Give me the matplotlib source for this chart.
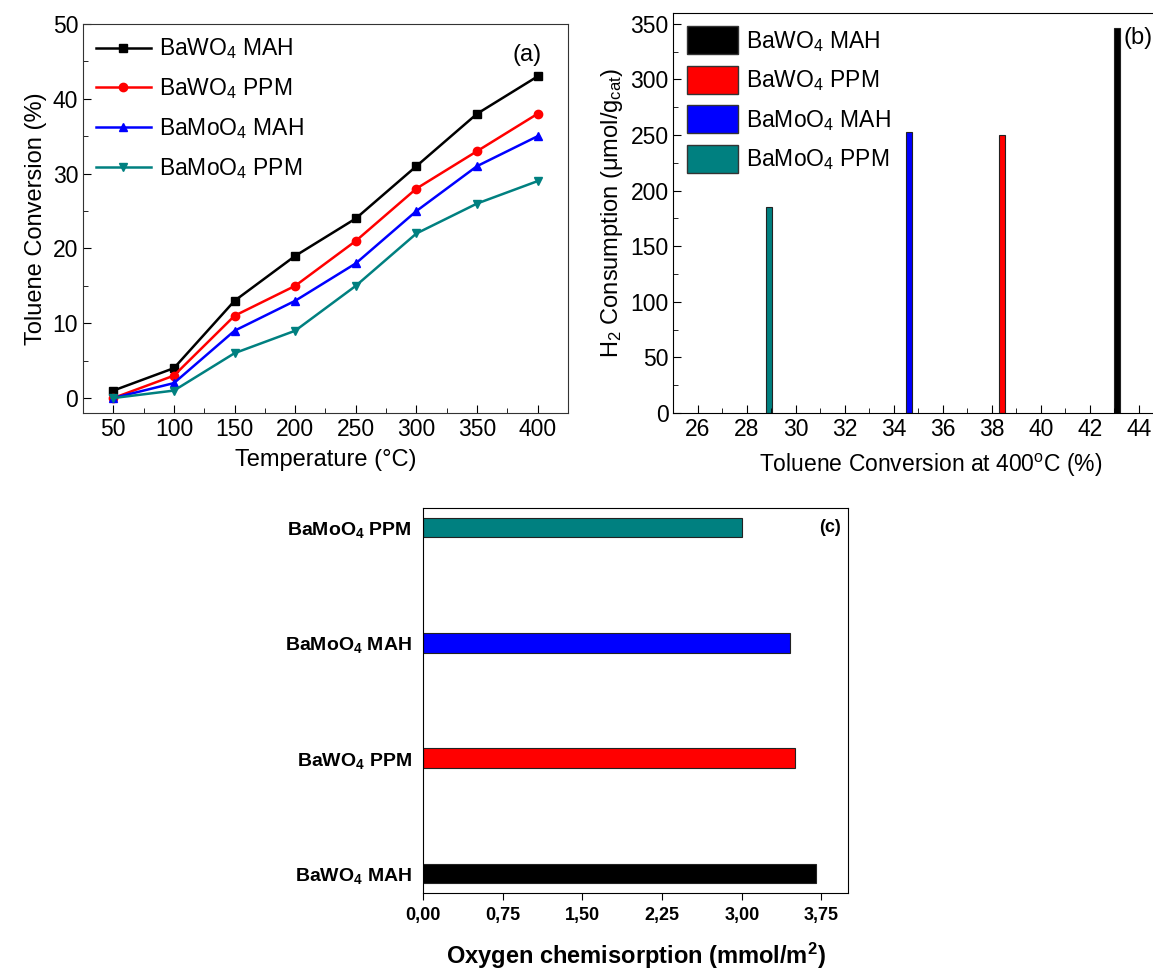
import matplotlib
matplotlib.use('Agg')
import matplotlib.pyplot as plt
from matplotlib.patches import Patch
import numpy as np

plt.rcParams['font.family'] = ['Liberation Sans', 'DejaVu Sans']
plt.rcParams['mathtext.fontset'] = 'custom'
plt.rcParams['mathtext.rm'] = 'Liberation Sans'
plt.rcParams['mathtext.it'] = 'Liberation Sans'
plt.rcParams['mathtext.bf'] = 'Liberation Sans:bold'
plt.rcParams['mathtext.default'] = 'regular'

# (a) toluene conversion vs temperature
temps = [50, 100, 150, 200, 250, 300, 350, 400]
bawo4_mah = [1, 4, 13, 19, 24, 31, 38, 43]
bawo4_ppm = [0, 3, 11, 15, 21, 28, 33, 38]
bamoo4_mah = [0, 2, 9, 13, 18, 25, 31, 35]
bamoo4_ppm = [0, 1, 6, 9, 15, 22, 26, 29]

# (b) H2 consumption vs conversion at 400 C
conv_400 = [43.1, 38.4, 34.6, 28.9]
h2_cons = [346, 250, 253, 185]

# (c) oxygen chemisorption
samples_c = ['BaWO$_\\mathbf{4}$ MAH', 'BaWO$_\\mathbf{4}$ PPM',
             'BaMoO$_\\mathbf{4}$ MAH', 'BaMoO$_\\mathbf{4}$ PPM']
oxy_chem = [3.70, 3.50, 3.45, 3.00]

labels = ['BaWO$_4$ MAH', 'BaWO$_4$ PPM', 'BaMoO$_4$ MAH', 'BaMoO$_4$ PPM']
colors = ['#000000', '#ff0000', '#0000ff', '#008080']
markers = ['s', 'o', '^', 'v']

fig = plt.figure(figsize=(11.53, 9.75), dpi=100)

# ---- panel a
ax1 = fig.add_axes([0.072, 0.5764, 0.4206, 0.399])
for ys, lab, c, m in zip([bawo4_mah, bawo4_ppm, bamoo4_mah, bamoo4_ppm], labels, colors, markers):
    ax1.plot(temps, ys, color=c, marker=m, lw=1.8, ms=6, label=lab)
ax1.set_xlim(25, 425)
ax1.set_ylim(-2, 50)
ax1.set_xticks(range(50, 401, 50))
ax1.set_xticks(range(75, 401, 50), minor=True)
ax1.set_yticks(range(0, 51, 10))
ax1.set_yticks(range(5, 50, 10), minor=True)
ax1.tick_params(which='both', direction='in', labelsize=16.5)
ax1.tick_params(which='major', length=6)
ax1.tick_params(which='minor', length=3.5)
ax1.set_xlabel('Temperature (°C)', fontsize=17, labelpad=6)
ax1.set_ylabel('Toluene Conversion (%)', fontsize=17, labelpad=4)
ax1.legend(loc='upper left', frameon=False, fontsize=16.5, handlelength=2.4,
           labelspacing=0.65, borderaxespad=0.15, handletextpad=0.35)
ax1.text(0.945, 0.92, '(a)', transform=ax1.transAxes, ha='right', va='center', fontsize=17)
for s in ax1.spines.values():
    s.set_color('#333333')

# ---- panel b
ax2 = fig.add_axes([0.5841, 0.5764, 0.4462, 0.4106])
for x, h, c in zip(conv_400, h2_cons, colors):
    ax2.bar(x, h, width=0.25, color=c, edgecolor='#222222', linewidth=0.8)
ax2.set_xlim(25, 46)
ax2.set_ylim(0, 360)
ax2.set_xticks(range(26, 46, 2))
ax2.set_xticks(range(27, 46, 2), minor=True)
ax2.set_yticks(range(0, 351, 50))
ax2.set_yticks(range(25, 350, 50), minor=True)
ax2.tick_params(which='both', direction='in', labelsize=16.5)
ax2.tick_params(which='major', length=6)
ax2.tick_params(which='minor', length=3.5)
ax2.set_xlabel('Toluene Conversion at 400$^{o}$C (%)', fontsize=16.5, labelpad=8)
ax2.set_ylabel('H$_2$ Consumption ($\\mu$mol/g$_{cat}$)', fontsize=17, labelpad=4)
handles = [Patch(facecolor=c, edgecolor='#333333') for c in colors]
ax2.legend(handles, labels, loc='upper left', frameon=False, fontsize=16.5,
           handlelength=2.2, handleheight=1.5, labelspacing=0.5,
           borderaxespad=0.2, handletextpad=0.35)
ax2.text(43.35, 337, '(b)', ha='left', va='center', fontsize=17)

# ---- panel c
ax3 = fig.add_axes([0.3669, 0.0841, 0.3686, 0.3949])
ypos = np.arange(len(samples_c))
ax3.barh(ypos, oxy_chem, height=0.17, color=colors, edgecolor='#222222', linewidth=0.8)
ax3.set_xlim(0, 4.0)
ax3.set_ylim(-0.17, 3.17)
ax3.set_xticks(np.arange(0, 3.76, 0.75))
ax3.set_xticklabels([f'{v:.2f}'.replace('.', ',') for v in np.arange(0, 3.76, 0.75)],
                    fontweight='bold', fontsize=13)
ax3.set_yticks(ypos)
ax3.set_yticklabels(samples_c, fontweight='bold', fontsize=14)
ax3.tick_params(axis='y', length=0, pad=8)
ax3.tick_params(axis='x', direction='out', length=5, pad=5)
ax3.set_xlabel('Oxygen chemisorption (mmol/m$^\\mathbf{2}$)',
               fontweight='bold', fontsize=17, labelpad=12)
ax3.text(3.93, 3.0, '(c)', ha='right', va='center', fontweight='bold', fontsize=13)

fig.savefig('out.png', dpi=100)
